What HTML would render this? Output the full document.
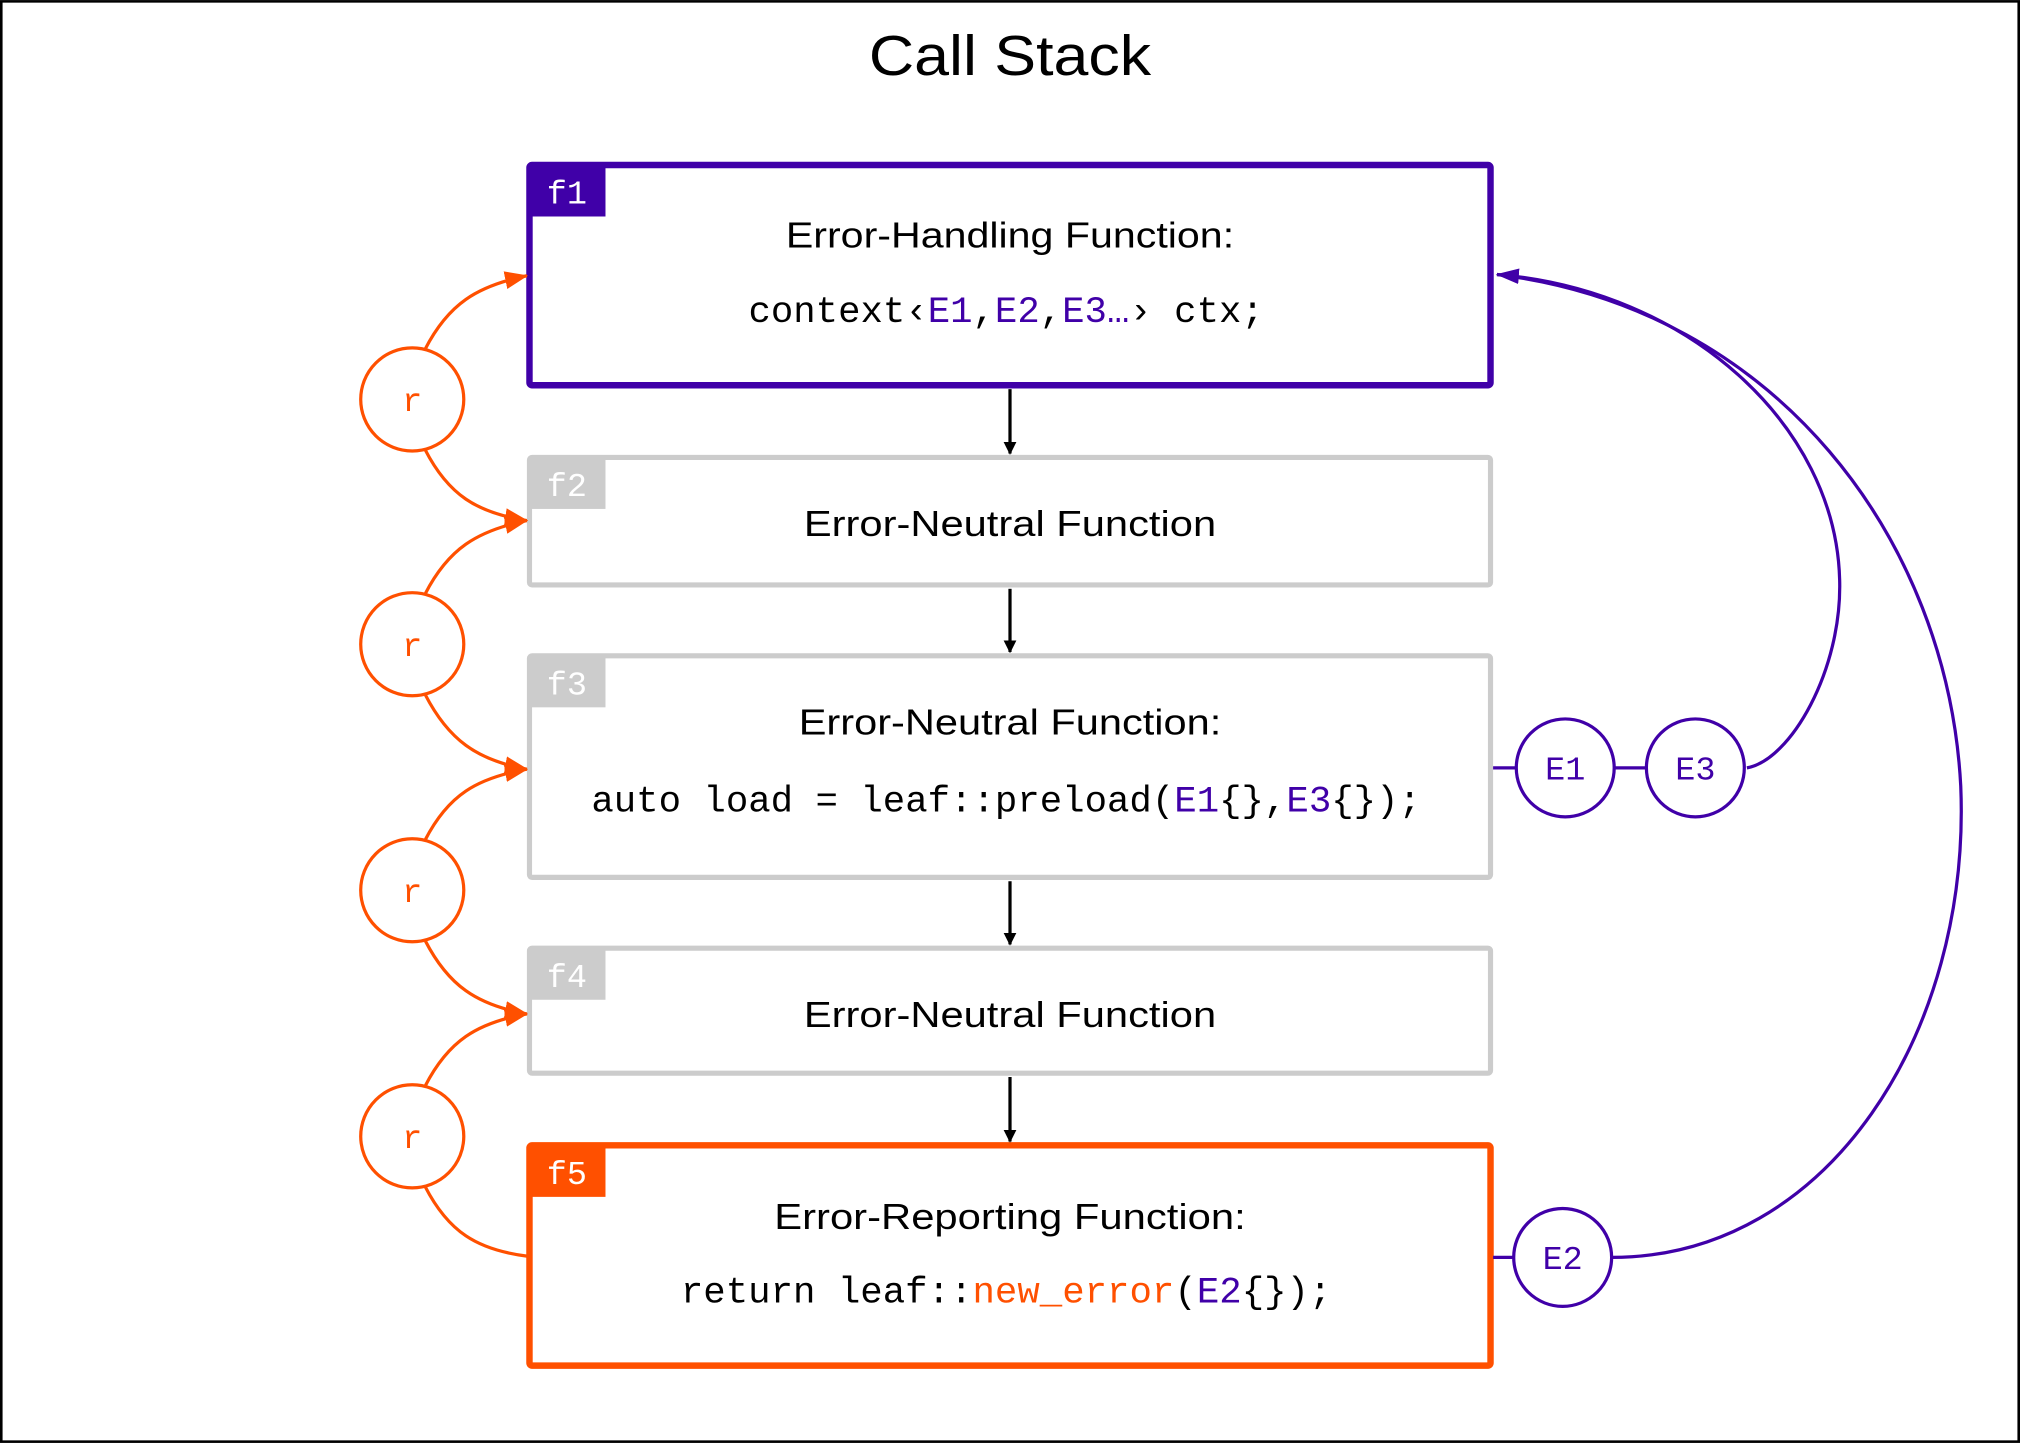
<!DOCTYPE html>
<html><head><meta charset="utf-8"><style>
html,body{margin:0;padding:0;background:#fff;}
svg{display:block;}
.s{font-family:"Liberation Sans",sans-serif;fill:#000;}
.m{font-family:"Liberation Mono",monospace;fill:#000;}
.p{fill:#4000a8;}
.o{fill:#ff5000;}
</style></head><body>
<svg width="2020" height="1443" viewBox="0 0 1568 1120" xmlns="http://www.w3.org/2000/svg">
<defs>
<marker id="ab" markerWidth="10" markerHeight="10" refX="9" refY="5" orient="auto" markerUnits="userSpaceOnUse" viewBox="0 0 10 10"><path d="M0,0 L10,5 L0,10 z" fill="#000"/></marker>
<marker id="ao" markerWidth="18" markerHeight="14" refX="17" refY="7" orient="auto" markerUnits="userSpaceOnUse" viewBox="0 0 18 14"><path d="M0,0 L18,7 L0,14 z" fill="#ff5000"/></marker>
<marker id="ap" markerWidth="18" markerHeight="12" refX="17" refY="6" orient="auto" markerUnits="userSpaceOnUse" viewBox="0 0 18 12"><path d="M0,0 L18,6 L0,12 z" fill="#4000a8"/></marker>
</defs>
<rect x="1" y="1" width="1566" height="1118" fill="#fff" stroke="#000" stroke-width="2"/>
<text class="s" x="784" y="58" font-size="44" text-anchor="middle" textLength="219" lengthAdjust="spacingAndGlyphs">Call Stack</text>

<rect x="411" y="128" width="746" height="171" fill="#fff" stroke="#4000a8" stroke-width="5" rx="2"/>
<rect x="411" y="128" width="59" height="40" fill="#4000a8"/>
<text class="m" x="440" y="158" font-size="26" text-anchor="middle" style="fill:#fff">f1</text>

<rect x="411" y="355" width="746" height="99" fill="#fff" stroke="#cccccc" stroke-width="4" rx="2"/>
<rect x="411" y="355" width="59" height="40" fill="#cccccc"/>
<text class="m" x="440" y="385" font-size="26" text-anchor="middle" style="fill:#fff">f2</text>

<rect x="411" y="509" width="746" height="172" fill="#fff" stroke="#cccccc" stroke-width="4" rx="2"/>
<rect x="411" y="509" width="59" height="40" fill="#cccccc"/>
<text class="m" x="440" y="539" font-size="26" text-anchor="middle" style="fill:#fff">f3</text>

<rect x="411" y="736" width="746" height="97" fill="#fff" stroke="#cccccc" stroke-width="4" rx="2"/>
<rect x="411" y="736" width="59" height="40" fill="#cccccc"/>
<text class="m" x="440" y="766" font-size="26" text-anchor="middle" style="fill:#fff">f4</text>

<rect x="411" y="889" width="746" height="171" fill="#fff" stroke="#ff5000" stroke-width="5" rx="2"/>
<rect x="411" y="889" width="59" height="40" fill="#ff5000"/>
<text class="m" x="440" y="919" font-size="26" text-anchor="middle" style="fill:#fff">f5</text>

<text class="s" x="784" y="192" font-size="28" text-anchor="middle" textLength="348" lengthAdjust="spacingAndGlyphs">Error-Handling Function:</text>
<text class="m" x="781" y="250" font-size="29" text-anchor="middle" textLength="400" lengthAdjust="spacingAndGlyphs">context‹<tspan class="p">E1</tspan>,<tspan class="p">E2</tspan>,<tspan class="p">E3…</tspan>› ctx;</text>
<text class="s" x="784" y="416" font-size="28" text-anchor="middle" textLength="320" lengthAdjust="spacingAndGlyphs">Error-Neutral Function</text>
<text class="s" x="784" y="570" font-size="28" text-anchor="middle" textLength="328" lengthAdjust="spacingAndGlyphs">Error-Neutral Function:</text>
<text class="m" x="781" y="630" font-size="29" text-anchor="middle" textLength="644" lengthAdjust="spacingAndGlyphs">auto load = leaf::preload(<tspan class="p">E1</tspan>{},<tspan class="p">E3</tspan>{});</text>
<text class="s" x="784" y="797" font-size="28" text-anchor="middle" textLength="320" lengthAdjust="spacingAndGlyphs">Error-Neutral Function</text>
<text class="s" x="784" y="954" font-size="28" text-anchor="middle" textLength="366" lengthAdjust="spacingAndGlyphs">Error-Reporting Function:</text>
<text class="m" x="781" y="1011" font-size="29" text-anchor="middle" textLength="505" lengthAdjust="spacingAndGlyphs">return leaf::<tspan class="o">new_error</tspan>(<tspan class="p">E2</tspan>{});</text>

<g stroke="#000" stroke-width="2.5" fill="none">
<path d="M784,302 L784,352" marker-end="url(#ab)"/>
<path d="M784,457 L784,506" marker-end="url(#ab)"/>
<path d="M784,684 L784,733" marker-end="url(#ab)"/>
<path d="M784,836 L784,886" marker-end="url(#ab)"/>
</g>

<g stroke="#ff5000" stroke-width="2.5" fill="#fff">
<ellipse cx="320" cy="310" rx="40" ry="40"/>
<ellipse cx="320" cy="500" rx="40" ry="40"/>
<ellipse cx="320" cy="691" rx="40" ry="40"/>
<ellipse cx="320" cy="882" rx="40" ry="40"/>
</g>
<g font-size="26" text-anchor="middle">
<text x="320" y="319" class="m o">r</text>
<text x="320" y="509" class="m o">r</text>
<text x="320" y="700" class="m o">r</text>
<text x="320" y="891" class="m o">r</text>
</g>
<g stroke="#ff5000" stroke-width="2.5" fill="none">
<path d="M330,271 C348,236 370,222 409,214" marker-end="url(#ao)"/>
<path d="M330,349 C348,384 370,398 409,404" marker-end="url(#ao)"/>
<path d="M330,461 C348,426 370,412 409,404" marker-end="url(#ao)"/>
<path d="M330,539 C348,574 370,590 409,597" marker-end="url(#ao)"/>
<path d="M330,652 C348,617 370,604 409,597" marker-end="url(#ao)"/>
<path d="M330,730 C348,765 370,780 409,787" marker-end="url(#ao)"/>
<path d="M330,843 C348,808 370,794 409,787" marker-end="url(#ao)"/>
<path d="M330,921 C348,956 370,970 409,975"/>
</g>

<g stroke="#4000a8" stroke-width="2.5" fill="none">
<path d="M1159,596 L1177,596"/>
<path d="M1253,596 L1278,596"/>
<path d="M1159,976 L1175,976"/>
<path d="M1251,976 C1420,976 1530,800 1522,610 C1512,420 1380,240 1162,213"/>
<path d="M1356,596 C1390,590 1430,520 1428,450 C1425,330 1310,225 1162,213" marker-end="url(#ap)"/>
<ellipse cx="1215" cy="596" rx="38" ry="38" fill="#fff"/>
<ellipse cx="1316" cy="596" rx="38" ry="38" fill="#fff"/>
<ellipse cx="1213" cy="976" rx="38" ry="38" fill="#fff"/>
</g>
<text class="m p" x="1215" y="605" font-size="26" text-anchor="middle">E1</text>
<text class="m p" x="1316" y="605" font-size="26" text-anchor="middle">E3</text>
<text class="m p" x="1213" y="985" font-size="26" text-anchor="middle">E2</text>
</svg>
</body></html>
